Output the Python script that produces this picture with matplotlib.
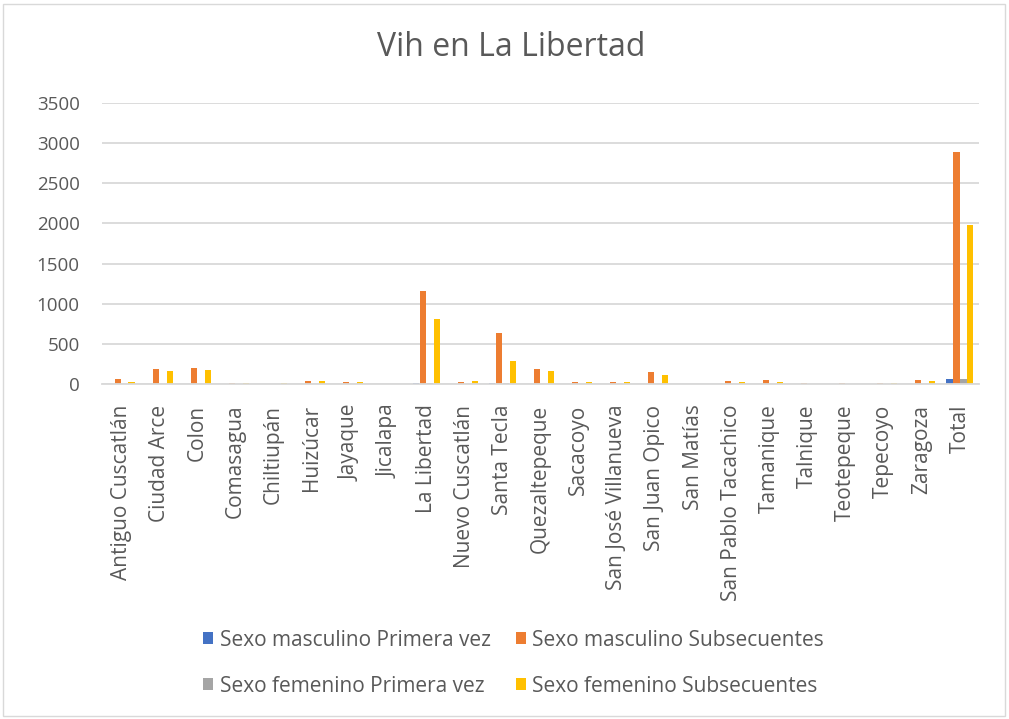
import numpy as np
import matplotlib
matplotlib.use("Agg")
import matplotlib.pyplot as plt
from matplotlib.patches import Rectangle

plt.rcParams["font.family"] = ["Open Sans", "DejaVu Sans"]

municipios = ["Antiguo Cuscatlán", "Ciudad Arce", "Colon", "Comasagua", "Chiltiupán",
              "Huizúcar", "Jayaque", "Jicalapa", "La Libertad", "Nuevo Cuscatlán",
              "Santa Tecla", "Quezaltepeque", "Sacacoyo", "San José Villanueva",
              "San Juan Opico", "San Matías", "San Pablo Tacachico", "Tamanique",
              "Talnique", "Teotepeque", "Tepecoyo", "Zaragoza", "Total"]

masc_primera = [0, 0, 0, 0, 0, 0, 0, 0, 3, 0, 3, 0, 0, 0, 0, 0, 0, 0, 0, 0, 0, 0, 63]
masc_subsec = [58, 184, 196, 5, 0, 34, 21, 0, 1163, 21, 634, 180, 25, 25, 143, 0, 34, 46,
               3, 3, 3, 50, 2888]
fem_primera = [0, 0, 0, 0, 0, 0, 0, 0, 3, 0, 3, 0, 0, 0, 0, 0, 0, 0, 0, 0, 0, 0, 62]
fem_subsec = [22, 155, 175, 4, 3, 34, 21, 0, 812, 37, 280, 159, 25, 21, 113, 0, 21, 25,
              0, 0, 3, 37, 1984]

series = [
    ("Sexo masculino Primera vez", masc_primera, "#4472C4"),
    ("Sexo masculino Subsecuentes", masc_subsec, "#ED7D31"),
    ("Sexo femenino Primera vez", fem_primera, "#A5A5A5"),
    ("Sexo femenino Subsecuentes", fem_subsec, "#FFC000"),
]

texto = "#595959"
rejilla = "#D9D9D9"

fig = plt.figure(figsize=(10.09, 7.19), dpi=100)
ax = fig.add_axes([0.1011, 0.4663, 0.8692, 0.39])

x = np.arange(len(municipios))
paso = 0.183
handles = []
for i, (nombre, valores, color) in enumerate(series):
    h = ax.bar(x + (i - 1.5) * paso, valores, width=0.16, color=color, label=nombre)
    handles.append(h)

ax.set_xlim(-0.5, len(municipios) - 0.5)
ax.set_ylim(0, 3500)
ax.set_yticks(range(0, 3501, 500))
ax.grid(axis="y", color=rejilla, linewidth=1.3)
ax.set_axisbelow(True)
for lado in ["top", "right", "left"]:
    ax.spines[lado].set_visible(False)
ax.spines["bottom"].set_color(rejilla)
ax.spines["bottom"].set_linewidth(1.3)

ax.set_xticks(x)
ax.set_xticklabels(municipios, rotation=90)
ax.tick_params(axis="x", length=0, pad=15, labelsize=15, labelcolor=texto)
ax.tick_params(axis="y", length=0, pad=16, labelsize=13.5, labelcolor=texto)

fig.text(0.507, 1 - 48 / 719, "Vih en La Libertad", ha="center", va="center",
         fontsize=23, color=texto)

# orden para que la leyenda quede en dos filas
orden = [handles[0], handles[2], handles[1], handles[3]]
fig.legend(orden, [h.get_label() for h in orden], ncol=2, loc="center",
           bbox_to_anchor=(0.509, 1 - 663 / 719), frameon=False, fontsize=15,
           labelcolor=texto, handlelength=0.5, handleheight=0.5, handletextpad=0.3,
           columnspacing=1.2, labelspacing=1.2)

fig.patches.append(Rectangle((0.003, 0.004), 0.993, 0.99, transform=fig.transFigure,
                             fill=False, edgecolor=rejilla, linewidth=1))

fig.savefig("out.png", dpi=100)
